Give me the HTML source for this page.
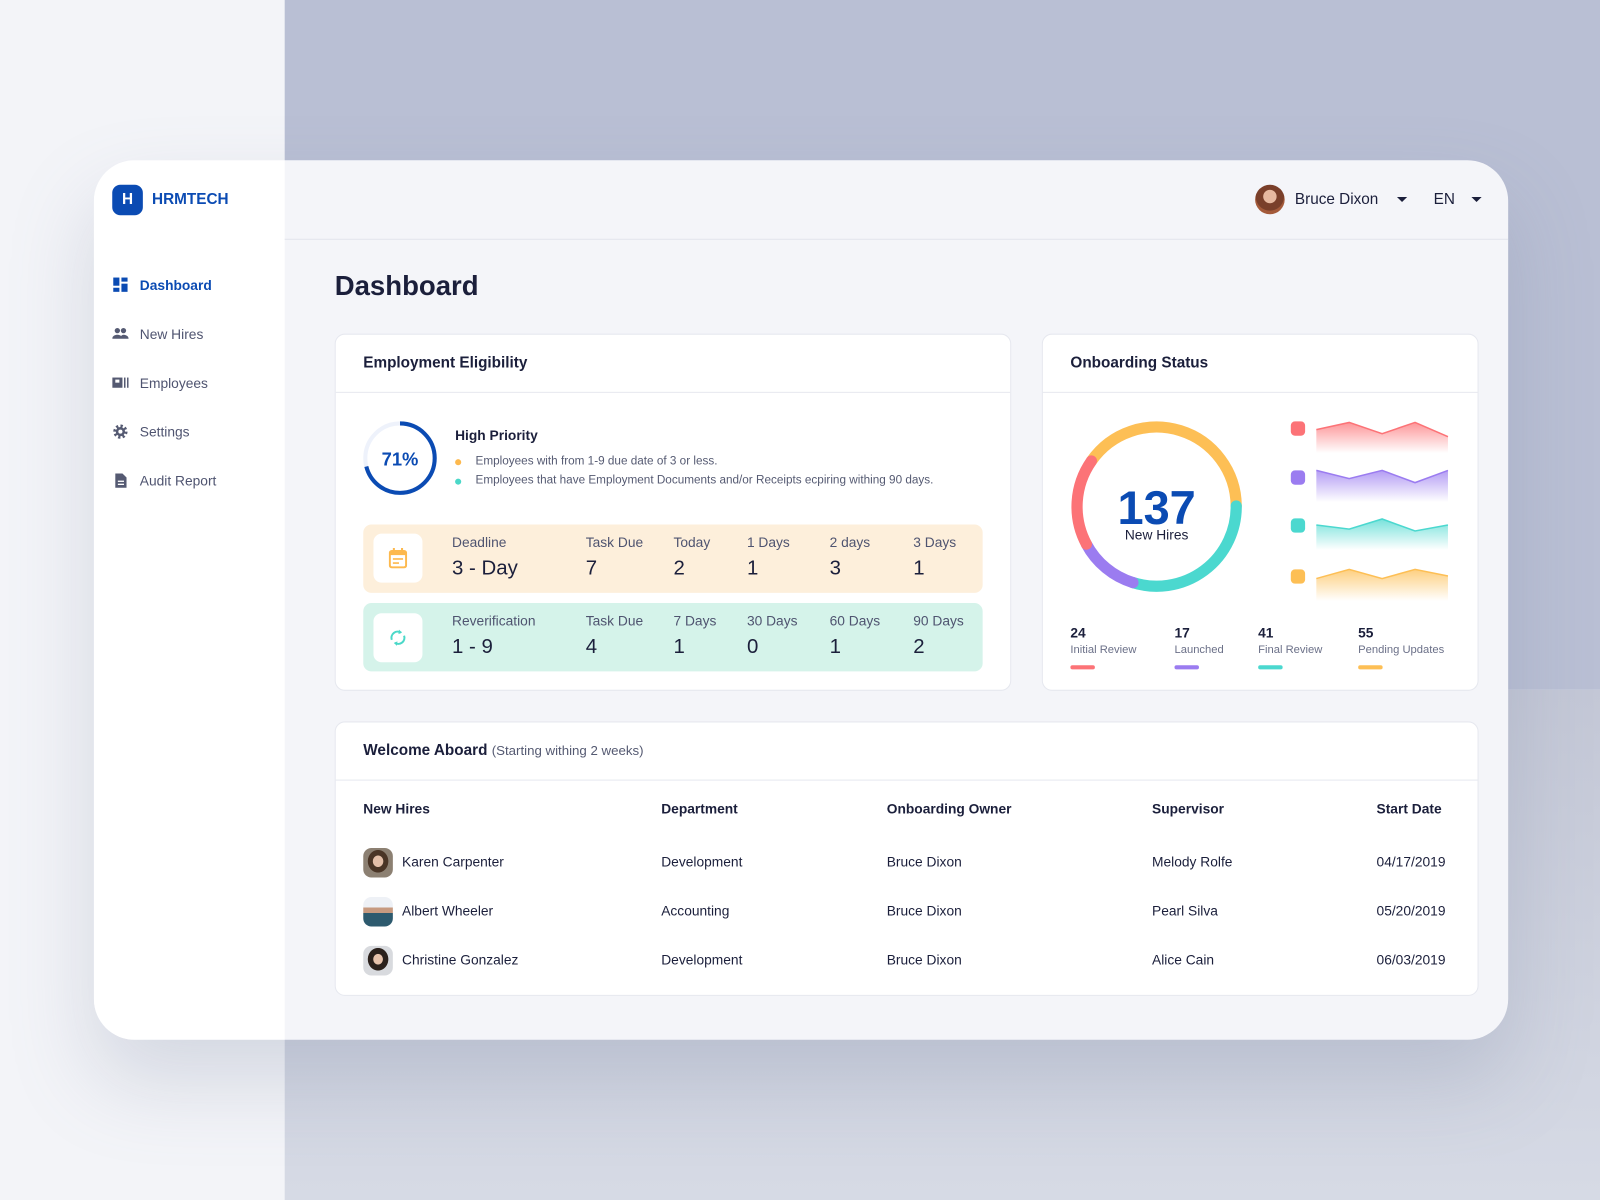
<!DOCTYPE html>
<html><head><meta charset="utf-8"><style>
*{box-sizing:border-box;margin:0;padding:0}
html,body{width:1600px;height:1200px;overflow:hidden;background:#f3f4f8}
body{font-family:"Liberation Sans",sans-serif;color:#1b1f3b}
#stage{position:absolute;left:0;top:0;width:1568px;height:1176px;transform:scale(1.020408);transform-origin:0 0;overflow:hidden}
.abs{position:absolute}
.card{position:absolute;background:#fff;border:1px solid #e6e8ef;border-radius:10px}
.t{position:absolute;white-space:nowrap}
.lbl{font-size:13.5px;color:#4f5470}
.val{font-size:20px;color:#1b1f3b}
.th{font-size:13.5px;font-weight:bold;color:#1b1f3b}
.td{font-size:13.5px;color:#1b1f3b}
.nav{position:absolute;left:110px;font-size:13.5px;color:#4f5470;display:flex;align-items:center;gap:11px}
.ico{width:16px;height:16px;display:inline-block}
.av{position:absolute;width:29px;height:29px;border-radius:8px;overflow:hidden}
</style></head><body>
<div id="stage">
 <div class="abs" style="left:0;top:0;width:279px;height:1176px;background:#f3f4f8"></div>
 <div class="abs" style="left:279px;top:0;width:1289px;height:676px;background:#b9bfd4"></div>
 <div class="abs" style="left:279px;top:676px;width:1289px;height:500px;background:linear-gradient(#c3c7d6,#d6dae5)"></div>

 <div class="abs" style="left:92px;top:157px;width:1386px;height:862px;border-radius:40px;background:#f4f5f9;overflow:hidden;box-shadow:0 40px 80px rgba(120,130,160,0.25)">
  <div class="abs" style="left:0;top:0;width:187px;height:862px;background:#fff"></div>
  <div class="abs" style="left:187px;top:77px;width:1199px;height:1px;background:#e3e5ec"></div>
 </div>

 <div class="abs" style="left:110px;top:181px;width:30px;height:30px;border-radius:8px;background:#0b4bb3;color:#fff;font-weight:bold;font-size:15px;text-align:center;line-height:30px">H</div>
 <div class="t" style="left:149px;top:187px;font-size:15px;font-weight:bold;color:#0b4bb3">HRMTECH</div>

 <div class="nav" style="top:271px;color:#0b4bb3;font-weight:bold"><svg class="ico" viewBox="0 0 16 16"><rect x="1" y="1" width="6" height="8" fill="#0b4bb3"/><rect x="9" y="1" width="6" height="4" fill="#0b4bb3"/><rect x="1" y="11" width="6" height="4" fill="#0b4bb3"/><rect x="9" y="7" width="6" height="8" fill="#0b4bb3"/></svg><span>Dashboard</span></div>
 <div class="nav" style="top:319px"><svg class="ico" viewBox="0 0 16 16"><circle cx="5" cy="5" r="2.6" fill="#555a72"/><circle cx="11" cy="5" r="2.6" fill="#555a72"/><path d="M0 13c0-3 3-4 5-4s5 1 5 4z M8 13c0-2 1-4 3-4s5 1 5 4z" fill="#555a72"/></svg><span>New Hires</span></div>
 <div class="nav" style="top:367px"><svg class="ico" viewBox="0 0 16 16"><rect x="0" y="3" width="10" height="10" fill="#555a72"/><rect x="3" y="5" width="4" height="3" fill="#fff"/><rect x="11.5" y="3" width="1.5" height="10" fill="#555a72"/><rect x="14.5" y="3" width="1.5" height="10" fill="#555a72"/></svg><span>Employees</span></div>
 <div class="nav" style="top:415px"><svg class="ico" viewBox="0 0 16 16"><circle cx="8" cy="8" r="5.5" fill="none" stroke="#555a72" stroke-width="3" stroke-dasharray="2.2 2.1"/><circle cx="8" cy="8" r="4.5" fill="#555a72"/><circle cx="8" cy="8" r="2" fill="#fff"/></svg><span>Settings</span></div>
 <div class="nav" style="top:463px"><svg class="ico" viewBox="0 0 16 16"><path d="M3 1h7l4 4v10H3z" fill="#555a72"/><rect x="5.5" y="8" width="6" height="1.3" fill="#fff"/><rect x="5.5" y="11" width="6" height="1.3" fill="#fff"/></svg><span>Audit Report</span></div>

 <div class="abs" style="left:1230px;top:181px;width:29px;height:29px;border-radius:50%;background:radial-gradient(circle at 50% 40%,#e7b9a0 0 28%,#7a3f2a 30% 60%,#a45a3a 62%)"></div>
 <div class="t" style="left:1269px;top:187px;font-size:15px">Bruce Dixon</div>
 <div class="abs" style="left:1369px;top:193px;border-left:5px solid transparent;border-right:5px solid transparent;border-top:5px solid #1b1f3b"></div>
 <div class="t" style="left:1405px;top:187px;font-size:15px">EN</div>
 <div class="abs" style="left:1442px;top:193px;border-left:5px solid transparent;border-right:5px solid transparent;border-top:5px solid #1b1f3b"></div>

 <div class="t" style="left:328px;top:265px;font-size:27px;font-weight:bold">Dashboard</div>

 <!-- Employment Eligibility -->
 <div class="card" style="left:328px;top:327px;width:663px;height:350px"></div>
 <div class="abs" style="left:329px;top:384px;width:661px;height:1px;background:#e6e8ef"></div>
 <div class="t" style="left:356px;top:347px;font-size:15px;font-weight:bold">Employment Eligibility</div>
 <svg class="abs" style="left:354px;top:411px" width="76" height="76" viewBox="0 0 76 76">
  <circle cx="38" cy="38" r="34" fill="none" stroke="#eef2fb" stroke-width="4"/>
  <circle id="ring71" cx="38" cy="38" r="34" fill="none" stroke="#0b4bb3" stroke-width="4" transform="rotate(-90 38 38)"/>
  <text x="38" y="45" text-anchor="middle" font-family="Liberation Sans, sans-serif" font-size="18" font-weight="bold" fill="#0b4bb3">71%</text>
 </svg>
 <div class="t" style="left:446px;top:419px;font-size:13.5px;font-weight:bold">High Priority</div>
 <div class="abs" style="left:446px;top:450px;width:6px;height:6px;border-radius:50%;background:#fdb94e"></div>
 <div class="t" style="left:466px;top:446px;font-size:11.5px;color:#555a72">Employees with from 1-9 due date of 3 or less.</div>
 <div class="abs" style="left:446px;top:469px;width:6px;height:6px;border-radius:50%;background:#4bd8c8"></div>
 <div class="t" style="left:466px;top:465px;font-size:11.5px;color:#555a72">Employees that have Employment Documents and/or Receipts ecpiring withing 90 days.</div>

 <div class="abs" style="left:356px;top:514px;width:607px;height:67px;border-radius:8px;background:#fdefdb"></div>
 <div class="abs" style="left:366px;top:523px;width:48px;height:48px;border-radius:8px;background:#fff"></div>
 <svg class="abs" style="left:381px;top:537px" width="18" height="20" viewBox="0 0 18 20"><rect x="1" y="3" width="16" height="16" rx="2" fill="none" stroke="#fdb94e" stroke-width="2"/><rect x="1" y="3" width="16" height="4" fill="#fdb94e"/><rect x="4" y="0" width="2" height="4" fill="#fdb94e"/><rect x="12" y="0" width="2" height="4" fill="#fdb94e"/><rect x="4" y="10" width="10" height="1.6" fill="#fdb94e"/><rect x="4" y="14" width="6" height="1.6" fill="#fdb94e"/></svg>
 <div id="deadline-cells"></div>

 <div class="abs" style="left:356px;top:591px;width:607px;height:67px;border-radius:8px;background:#d5f3ea"></div>
 <div class="abs" style="left:366px;top:601px;width:48px;height:48px;border-radius:8px;background:#fff"></div>
 <svg class="abs" style="left:380px;top:615px" width="20" height="20" viewBox="0 0 20 20"><path d="M4 12a6 6 0 0 1 9-7" fill="none" stroke="#4bd8c8" stroke-width="2"/><path d="M11 2l3 3-3.5 1.5z" fill="#4bd8c8"/><path d="M16 8a6 6 0 0 1-9 7" fill="none" stroke="#4bd8c8" stroke-width="2"/><path d="M9 18l-3-3 3.5-1.5z" fill="#4bd8c8"/></svg>
 <div id="reverif-cells"></div>

 <!-- Onboarding Status -->
 <div class="card" style="left:1021px;top:327px;width:428px;height:350px"></div>
 <div class="abs" style="left:1022px;top:384px;width:426px;height:1px;background:#e6e8ef"></div>
 <div class="t" style="left:1049px;top:347px;font-size:15px;font-weight:bold">Onboarding Status</div>
 <svg class="abs" id="onb" style="left:1021px;top:385px" width="428" height="291"></svg>

 <!-- Welcome Aboard -->
 <div class="card" style="left:328px;top:707px;width:1121px;height:269px"></div>
 <div class="abs" style="left:329px;top:764px;width:1119px;height:1px;background:#e6e8ef"></div>
 <div class="t" style="left:356px;top:727px;font-size:15px;font-weight:bold">Welcome Aboard <span style="font-weight:normal;font-size:13px;color:#555a72">(Starting withing 2 weeks)</span></div>
 <div class="t th" style="left:356px;top:785px">New Hires</div>
 <div class="t th" style="left:648px;top:785px">Department</div>
 <div class="t th" style="left:869px;top:785px">Onboarding Owner</div>
 <div class="t th" style="left:1129px;top:785px">Supervisor</div>
 <div class="t th" style="left:1349px;top:785px">Start Date</div>

 <div class="av" style="left:356px;top:831px;background:radial-gradient(ellipse at 50% 45%,#e3bfa8 0 24%,#4a3526 26% 48%,#8c8072 50%)"></div>
 <div class="t td" style="left:394px;top:837px">Karen Carpenter</div>
 <div class="t td" style="left:648px;top:837px">Development</div>
 <div class="t td" style="left:869px;top:837px">Bruce Dixon</div>
 <div class="t td" style="left:1129px;top:837px">Melody Rolfe</div>
 <div class="t td" style="left:1349px;top:837px">04/17/2019</div>

 <div class="av" style="left:356px;top:879px;background:linear-gradient(#eef1f6 0 35%,#c79a80 35% 55%,#2d5a6e 55%)"></div>
 <div class="t td" style="left:394px;top:885px">Albert Wheeler</div>
 <div class="t td" style="left:648px;top:885px">Accounting</div>
 <div class="t td" style="left:869px;top:885px">Bruce Dixon</div>
 <div class="t td" style="left:1129px;top:885px">Pearl Silva</div>
 <div class="t td" style="left:1349px;top:885px">05/20/2019</div>

 <div class="av" style="left:356px;top:927px;background:radial-gradient(ellipse at 50% 45%,#e6c2ab 0 22%,#2b211c 24% 48%,#d8dade 50%)"></div>
 <div class="t td" style="left:394px;top:933px">Christine Gonzalez</div>
 <div class="t td" style="left:648px;top:933px">Development</div>
 <div class="t td" style="left:869px;top:933px">Bruce Dixon</div>
 <div class="t td" style="left:1129px;top:933px">Alice Cain</div>
 <div class="t td" style="left:1349px;top:933px">06/03/2019</div>
</div>
<script>
// ---- data ----
const priorityPct = 71;
const deadlineLabels = ["Deadline","Task Due","Today","1 Days","2 days","3 Days"];
const deadlineValues = ["3 - Day","7","2","1","3","1"];
const reverifLabels = ["Reverification","Task Due","7 Days","30 Days","60 Days","90 Days"];
const reverifValues = ["1 - 9","4","1","0","1","2"];
const statusNames = ["Initial Review","Launched","Final Review","Pending Updates"];
const statusCounts = [24,17,41,55];
const statusColors = ["#fc7377","#9b7cf0","#4bd8cf","#fdbf55"];
const totalHires = 137;
const sparkRed = [7,14,3,14,0];
const sparkPurple = [15,7,15,3,15];
const sparkTeal = [8.5,4.5,14.4,2.6,8.5];
const sparkOrange = [6,15,6,15,8.5];

const NS = "http://www.w3.org/2000/svg";
const stage = document.getElementById('stage');

// ring
const ring = document.getElementById('ring71');
const C = 2*Math.PI*34;
ring.setAttribute('stroke-dasharray', (C*priorityPct/100)+' '+C);

// stat rows
const colX = [443,574,660,732,813,895];
function statRow(labels, values, top, prefix){
  labels.forEach((l,i)=>{
    const a=document.createElement('div');
    a.className='t lbl'; a.style.left=colX[i]+'px'; a.style.top=top+'px'; a.textContent=l;
    
    
    stage.appendChild(a);
    const b=document.createElement('div');
    b.className='t val'; b.style.left=colX[i]+'px'; b.style.top=(top+22)+'px'; b.textContent=values[i];
    
    
    stage.appendChild(b);
  });
}
statRow(deadlineLabels, deadlineValues, 524, 'deadline');
statRow(reverifLabels, reverifValues, 601, 'reverification');

// onboarding chart (local coords: card left 1021, top 385)
const svg = document.getElementById('onb');
function el(tag, attrs){const e=document.createElementNS(NS,tag);for(const k in attrs)e.setAttribute(k,attrs[k]);svg.appendChild(e);return e;}
const cx=1133.5-1021, cy=496.5-385, r=78;
const total = statusCounts.reduce((a,b)=>a+b,0);
// order around ring clockwise: Pending (yellow), Final (teal), Launched (purple), Initial (red)
const order=[3,2,1,0];
let ang = -55*Math.PI/180; // start angle from top
function pt(a){return [cx+r*Math.sin(a), cy-r*Math.cos(a)];}
order.forEach(i=>{
  const sweep = statusCounts[i]/total*2*Math.PI;
  const [x1,y1]=pt(ang), [x2,y2]=pt(ang+sweep);
  const p = el('path',{d:`M${x1} ${y1} A${r} ${r} 0 ${sweep>Math.PI?1:0} 1 ${x2} ${y2}`,fill:'none',stroke:statusColors[i],'stroke-width':11,'stroke-linecap':'round'});
  
  
  ang += sweep;
});
const tt = el('text',{x:cx,y:cy+17,'text-anchor':'middle','font-family':'Liberation Sans, sans-serif','font-size':46,'font-weight':'bold',fill:'#0b4bb3'});
tt.textContent = totalHires;


const ts = el('text',{x:cx,y:cy+32,'text-anchor':'middle','font-family':'Liberation Sans, sans-serif','font-size':13.5,fill:'#1b1f3b'});
ts.textContent='New Hires';



// sparklines
const sparks=[sparkRed,sparkPurple,sparkTeal,sparkOrange];
const rowCenter=[420,468,515,565];
const defs=el('defs',{});
sparks.forEach((s,k)=>{
  const g=document.createElementNS(NS,'linearGradient');
  g.setAttribute('id','sg'+k); g.setAttribute('x1',0);g.setAttribute('y1',0);g.setAttribute('x2',0);g.setAttribute('y2',1);
  g.innerHTML=`<stop offset="0" stop-color="${statusColors[k]}" stop-opacity="0.75"/><stop offset="1" stop-color="${statusColors[k]}" stop-opacity="0"/>`;
  defs.appendChild(g);
  const base=rowCenter[k]+8-385;
  const m=el('rect',{x:1265-1021,y:rowCenter[k]-7-385,width:14,height:14,rx:4,fill:statusColors[k]});
  
  
  const x0=1290-1021, x1=1419-1021;
  const xs=s.map((v,i)=>x0+(x1-x0)*i/(s.length-1));
  const ys=s.map(v=>base-v);
  let line=xs.map((x,i)=>(i?'L':'M')+x+' '+ys[i]).join(' ');
  const area=el('path',{d:line+` L${x1} ${base+16} L${x0} ${base+16} Z`,fill:`url(#sg${k})`});
  
  
  const ln=el('path',{d:line,fill:'none',stroke:statusColors[k],'stroke-width':1.5});
  
  
});

// status legend
const legX=[1049,1151,1233,1331];
statusNames.forEach((n,i)=>{
  const x=legX[i]-1021;
  const a=el('text',{x:x,y:620-385+5,'font-family':'Liberation Sans, sans-serif','font-size':13.5,'font-weight':'bold',fill:'#1b1f3b'});
  a.textContent=statusCounts[i];
  
  
  const b=el('text',{x:x,y:640-385,'font-family':'Liberation Sans, sans-serif','font-size':11,fill:'#6b7088'});
  b.textContent=n;
  
  
  const c=el('rect',{x:x,y:652-385,width:24,height:4,rx:2,fill:statusColors[i]});
  
  
});
</script>
</body></html>
